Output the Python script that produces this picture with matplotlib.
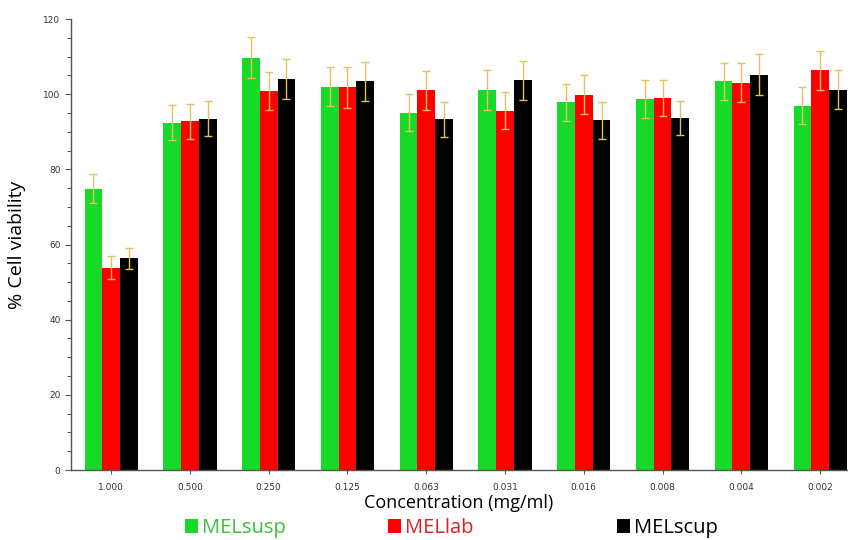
import matplotlib
matplotlib.use("Agg")
import matplotlib.pyplot as plt
import numpy as np
from matplotlib.patches import Patch
from matplotlib.ticker import MultipleLocator

concentrations = ["1.000", "0.500", "0.250", "0.125", "0.063",
                  "0.031", "0.016", "0.008", "0.004", "0.002"]
series_names = ["MELsusp", "MELlab", "MELscup"]

mel_susp = [74.9, 92.4, 109.7, 102.0, 95.1, 101.1, 97.8, 98.7, 103.4, 96.9]
mel_susp_err = [3.9, 4.6, 5.4, 5.2, 4.9, 5.2, 5.0, 5.0, 5.0, 4.9]
mel_lab = [53.8, 92.8, 100.8, 101.8, 101.0, 95.6, 99.8, 99.0, 103.1, 106.4]
mel_lab_err = [3.1, 4.7, 5.1, 5.4, 5.1, 4.9, 5.2, 4.9, 5.1, 5.2]
mel_scup = [56.4, 93.5, 104.0, 103.4, 93.3, 103.7, 93.0, 93.7, 105.2, 101.2]
mel_scup_err = [2.8, 4.6, 5.3, 5.1, 4.6, 5.2, 4.8, 4.6, 5.4, 5.2]

bar_colors = ["#17d92a", "#ff0000", "#000000"]
text_colors = ["#3cbf3c", "#e02020", "#000000"]
err_color = "#e3c060"

fig = plt.figure(figsize=(8.48, 5.40), dpi=100)
ax = fig.add_axes([0.0837, 0.1296, 0.915, 0.8352])

x = np.arange(len(concentrations))
w = 0.225
values = [mel_susp, mel_lab, mel_scup]
errors = [mel_susp_err, mel_lab_err, mel_scup_err]
for i, (vals, errs) in enumerate(zip(values, errors)):
    ax.bar(x + (i - 1) * w, vals, w, color=bar_colors[i],
           yerr=errs, ecolor=err_color,
           error_kw=dict(elinewidth=1.0, capsize=3, capthick=1.0))

ax.set_xlim(-0.51, 9.34)
ax.set_ylim(0, 120)
ax.yaxis.set_major_locator(MultipleLocator(20))
ax.yaxis.set_minor_locator(MultipleLocator(5))
ax.set_xticks(x)
ax.set_xticklabels(concentrations)
ax.tick_params(axis="both", labelsize=6.5, colors="#555555", labelcolor="#333333")
ax.tick_params(axis="y", which="major", length=4, width=0.8)
ax.tick_params(axis="y", which="minor", length=3, width=0.8, colors="#555555")
ax.tick_params(axis="x", length=3, width=0.8, pad=6)

for side in ("top", "right"):
    ax.spines[side].set_visible(False)
for side in ("left", "bottom"):
    ax.spines[side].set_color("#555555")
    ax.spines[side].set_linewidth(1.0)

ax.set_ylabel("% Cell viability", fontsize=14, family="Open Sans")
ax.yaxis.set_label_coords(-0.058, 0.5)
ax.set_xlabel("Concentration (mg/ml)", fontsize=13, family="Open Sans", labelpad=2)

# legend entries sit at uneven spacing in the original, so one legend each
legend_x = [0.218, 0.457, 0.728]
for name, bc, tc, lx in zip(series_names, bar_colors, text_colors, legend_x):
    fig.legend([Patch(facecolor=bc, edgecolor="none")], [name],
               loc="center left", bbox_to_anchor=(lx, 0.022), frameon=False,
               prop=dict(family="Open Sans", size=14.5), labelcolor=[tc],
               handlelength=0.65, handleheight=0.65, handletextpad=0.2,
               borderpad=0, borderaxespad=0)

fig.savefig("out.png", dpi=100)
